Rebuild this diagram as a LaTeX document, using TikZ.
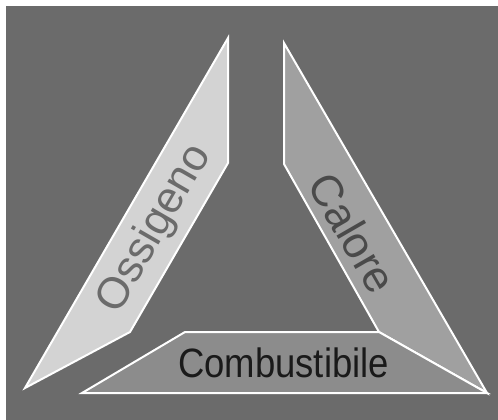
\documentclass[tikz,border=0pt]{standalone}
\usepackage{fontspec}
\setmainfont{Liberation Sans}
\definecolor{bggray}{HTML}{6B6B6B}
\definecolor{oxgray}{HTML}{D3D3D3}
\definecolor{heatgray}{HTML}{A0A0A0}
\definecolor{fuelgray}{HTML}{8C8C8C}
\definecolor{heattext}{HTML}{4A4A4A}
\definecolor{fueltext}{HTML}{1A1A1A}
\begin{document}
\begin{tikzpicture}[x=1pt,y=-1pt,
  side/.style={draw=white, line width=2pt, line join=miter},
  label/.style={inner sep=0pt, font=\fontsize{44}{48}\selectfont}]
\useasboundingbox (0,0) rectangle (498,420);
\fill[white] (0,0) rectangle (498,420);
\fill[bggray] (6,6) rectangle (498,420);
\draw[side, fill=oxgray] (228,38) -- (228,163) -- (130,332) -- (25,388) -- cycle;
\draw[side, fill=heatgray] (284,43) -- (284,164) -- (379,332) -- (487,393) -- cycle;
\draw[side, fill=fuelgray] (185,332) -- (379,332) -- (487,393) -- (82,393) -- cycle;
\node[label, text=bggray, rotate=60] (ox) at (155,229) {Ossigeno};
\node[label, text=heattext, rotate=-60] (cal) at (353,233) {Calore};
\node[label, text=fueltext, font=\fontsize{41}{44}\selectfont, xscale=0.89, anchor=base] (comb) at (283.5,377) {Combustibile};
\end{tikzpicture}
\end{document}
